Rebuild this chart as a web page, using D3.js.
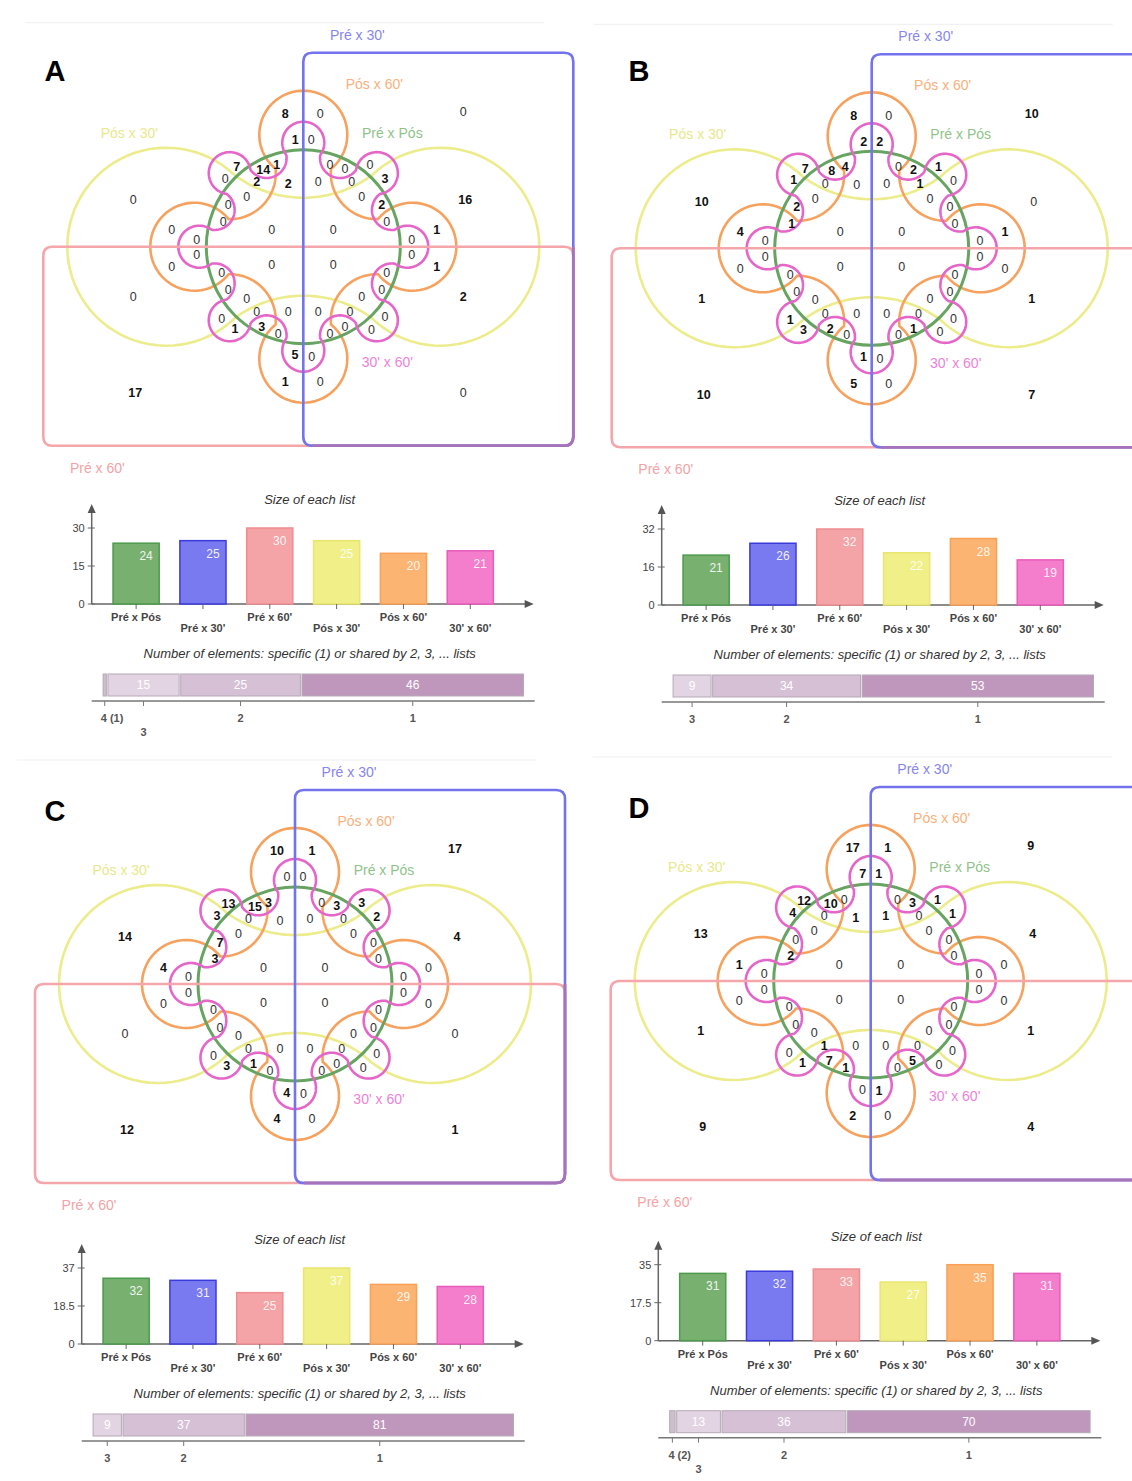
<!DOCTYPE html>
<html><head><meta charset="utf-8">
<script src="https://cdn.jsdelivr.net/npm/d3@7"></script>
<style>body{margin:0;background:#fff} svg{display:block} text{font-family:"Liberation Sans",Arial,sans-serif}</style>
</head><body><svg id="c" width="1132" height="1481"></svg>
<script>
// ---------------- DATA ----------------
const categories = ["Pré x Pós","Pré x 30'","Pré x 60'","Pós x 30'","Pós x 60'","30' x 60'"];

const sizesA = [24,25,30,25,20,21];
const sizesB = [21,26,32,22,28,19];
const sizesC = [32,31,25,37,29,28];
const sizesD = [31,32,33,27,35,31];

const ticksA = [0,15,30];
const ticksB = [0,16,32];
const ticksC = [0,18.5,37];
const ticksD = [0,17.5,35];

const levelsA = ["4","3","2","1"], sharedA = [1,15,25,46];
const levelsB = ["3","2","1"],     sharedB = [9,34,53];
const levelsC = ["3","2","1"],     sharedC = [9,37,81];
const levelsD = ["4","3","2","1"], sharedD = [2,13,36,70];

// region counts (63 regions, same order as regionPos layout table)
const regionsA = [0,0,16,0,2,17,0, 8,0, 1,0, 7,14,1,0,2,2,0,0,0, 0,0,0,0, 0,0,0,3,0,0,0,2,0, 1,0, 0,0,0,0,0,1, 0,0,0,0,0,0,1,3,0, 5,0,1,0, 0,0,0,0,0,0,0,0,0];
const regionsB = [10,10,0,1,1,10,7, 8,0, 2,2, 7,8,4,1,0,0,0,2,1, 4,0,0,0, 0,2,1,0,0,1,0,0,0, 1,0, 0,0,0,0,0,0, 0,0,0,1,0,0,3,2,0, 1,0,5,0, 0,0,0,0,0,0,0,1,0];
const regionsC = [17,14,4,0,0,12,1, 10,1, 0,0, 13,15,3,3,0,0,0,7,3, 4,0,0,0, 0,3,3,2,0,0,0,0,0, 0,0, 0,0,0,0,0,0, 0,0,0,0,0,0,3,1,0, 4,0,4,0, 0,0,0,0,0,0,0,0,0];
const regionsD = [9,13,4,1,1,9,4, 17,1, 7,1, 12,10,0,4,0,1,0,0,2, 1,0,0,0, 0,3,1,1,1,0,0,0,0, 0,0, 0,0,0,0,0,0, 0,0,0,0,1,0,1,7,1, 0,1,2,0, 0,0,0,0,0,0,0,5,0];

// ---------------- LAYOUT / STYLE ----------------
const regionPos = [
[160,-135],[-170,-47],[162,-47],[-170,50],[160,50],[-168,146],[160,146],
[-18,-133],[17,-133],
[-8,-107],[8,-107],
[-66.6,-80],[-40,-77.4],[-26.6,-81.7],[-78,-68.4],[-46.6,-65],[-15,-63.4],[-56.6,-50],[-75,-41.7],[-80,-25],
[-131.6,-16.7],[-106.6,-7.4],[-31.6,-16.7],[30,-16.7],
[26.7,-81.7],[41.7,-78.4],[66.7,-81.7],[81.7,-67.7],[15,-65],[48.4,-65],[58.4,-50],[78.4,-41.7],[83.4,-25],
[133.4,-16.7],[108.4,-7.4],
[-131.6,20],[-106.6,8.3],[-31.6,18.3],[30,18.3],[108.4,8.3],[133.4,20],
[-81.6,26],[-75,43.3],[-56.6,51.6],[-81.6,71.6],[-46.6,65],[-15,65],[-68.3,81.6],[-41.6,80],[-25,86.6],
[-8.3,108.3],[8.4,110],[-18,135],[17,135],
[15,65],[46.7,65],[58.4,50],[83.4,26],[78.4,43.3],[81.7,70],[26.7,86.6],[41.7,80],[68.3,83.3]
];
const setLabels = [
 {name:"Pré x 30'", x:54, y:-212, color:"#8686ee"},
 {name:"Pós x 60'", x:71, y:-163, color:"#f9b07c"},
 {name:"Pós x 30'", x:-174, y:-114, color:"#e8e88a"},
 {name:"Pré x Pós", x:89, y:-114, color:"#8fc38a"},
 {name:"30' x 60'", x:84, y:115, color:"#ee82d8"},
 {name:"Pré x 60'", x:-206, y:221, color:"#f3a3a6"}
];
const barFill   = ["#78b070","#7a7af0","#f4a4a6","#f0ef88","#fcb473","#f47dcc"];
const barStroke = ["#4c9a4c","#3b3bdc","#f08c90","#e8e570","#f8a055","#e85cbc"];
const levelFill = {"4":"#cbc1cb","3":"#e3d4e3","2":"#d6c0d6","1":"#bf97bd"};

const panels = [
 {letter:"A", sizes:sizesA, ticks:ticksA, levels:levelsA, shared:sharedA, regions:regionsA, vc:[303.3,246.7], bx:91.7, by:604, lx:55, ly:81},
 {letter:"B", sizes:sizesB, ticks:ticksB, levels:levelsB, shared:sharedB, regions:regionsB, vc:[871.7,248.3], bx:661.7, by:605, lx:639, ly:81},
 {letter:"C", sizes:sizesC, ticks:ticksC, levels:levelsC, shared:sharedC, regions:regionsC, vc:[295,984], bx:81.7, by:1344, lx:55, ly:821},
 {letter:"D", sizes:sizesD, ticks:ticksD, levels:levelsD, shared:sharedD, regions:regionsD, vc:[870.7,981], bx:658.3, by:1340.7, lx:639, ly:818}
];

// ---------------- GEOMETRY HELPERS ----------------
function meet(a,b){
  const dx=b.x-a.x, dy=b.y-a.y, d=Math.hypot(dx,dy);
  if (d >= a.r+b.r || d <= Math.abs(a.r-b.r)) { const k=a.r/(a.r+b.r); return [a.x+dx*k, a.y+dy*k]; }
  const A=(a.r*a.r-b.r*b.r+d*d)/(2*d), h=Math.sqrt(Math.max(0,a.r*a.r-A*A));
  const mx=a.x+dx*A/d, my=a.y+dy*A/d;
  const q1=[mx-dy*h/d, my+dx*h/d], q2=[mx+dy*h/d, my-dx*h/d];
  return Math.hypot(q1[0],q1[1])<Math.hypot(q2[0],q2[1])?q1:q2;
}
function arcPts(c,p1,p2,t){
  const TAU=2*Math.PI, norm=a=>((a%TAU)+TAU)%TAU;
  const a1=Math.atan2(p1[1]-c.y,p1[0]-c.x), a2=Math.atan2(p2[1]-c.y,p2[0]-c.x), at=Math.atan2(t[1]-c.y,t[0]-c.x);
  const s=norm(a2-a1); const sweep = norm(at-a1)<s ? s : s-TAU;
  const N=60, out=[];
  for(let k=0;k<=N;k++){const a=a1+sweep*k/N; out.push([c.x+c.r*Math.cos(a), c.y+c.r*Math.sin(a)]);}
  return out;
}
function cogPath(circles){
  const n=circles.length, P=[];
  for(let i=0;i<n;i++) P.push(meet(circles[i],circles[(i+1)%n]));
  let pts=[];
  for(let i=0;i<n;i++){
    const c=circles[i], p1=P[(i-1+n)%n], p2=P[i];
    const dist=Math.hypot(c.x,c.y), ux=c.x/dist, uy=c.y/dist;
    const t = c.outer ? [c.x+ux*c.r, c.y+uy*c.r] : [c.x-ux*c.r, c.y-uy*c.r];
    pts = pts.concat(arcPts(c,p1,p2,t));
  }
  return d3.line()(pts)+"Z";
}
function ring(count, dOut, rOut, dIn, rIn, phase){
  const arr=[];
  for(let k=0;k<count;k++){
    const outer = k%2===0, ang = phase + k*2*Math.PI/count;
    const d = outer?dOut:dIn, r = outer?rOut:rIn;
    arr.push({x:d*Math.cos(ang), y:d*Math.sin(ang), r:r, outer:outer});
  }
  return arr;
}
const yellowCircles = [
  {x:137,y:0,r:99,outer:true},{x:0,y:165,r:116,outer:false},
  {x:-137,y:0,r:99,outer:true},{x:0,y:-165,r:116,outer:false}];
const orangeCircles = (function(){
  const a=[]; for(let k=0;k<8;k++){const ang=k*Math.PI/4; const o=k%2===0;
    const d = o ? (k%4===0?109:112) : 104; a.push({x:d*Math.cos(ang), y:d*Math.sin(ang), r:o?44:46, outer:o});} return a; })();
const pinkCircles = ring(16, 104, 21, 96, 20, 0);

function roundRect(x0,y0,x1,y1,r){
  return `M${x0+r},${y0}H${x1-r}Q${x1},${y0} ${x1},${y0+r}V${y1-r}Q${x1},${y1} ${x1-r},${y1}H${x0+r}Q${x0},${y1} ${x0},${y1-r}V${y0+r}Q${x0},${y0} ${x0+r},${y0}Z`;
}

// ---------------- DRAW ----------------
const svg = d3.select("#c");
svg.append("rect").attr("width",1132).attr("height",1481).attr("fill","#fff");

function drawVenn(g, p){
  g.append("line").attr("x1",-278).attr("x2",241).attr("y1",-224).attr("y2",-224).attr("stroke","#efefef").attr("stroke-width",1);
  g.append("path").attr("d",cogPath(yellowCircles)).attr("fill","none").attr("stroke","#ecec8c").attr("stroke-width",2.6);
  g.append("path").attr("d",cogPath(orangeCircles)).attr("fill","none").attr("stroke","#f6a25e").attr("stroke-width",2.6);
  g.append("circle").attr("r",97).attr("fill","none").attr("stroke","#67a461").attr("stroke-width",3);
  g.append("path").attr("d",cogPath(pinkCircles)).attr("fill","none").attr("stroke","#e665c8").attr("stroke-width",2.6);
  g.append("path").attr("d",roundRect(-260,0,270,199,9)).attr("fill","none").attr("stroke","#f4a6ab").attr("stroke-width",2.6);
  g.append("path").attr("d",roundRect(0,-194,270,199,9)).attr("fill","none").attr("stroke","#7373ee").attr("stroke-width",2.6);
  g.append("path").attr("d",`M270,0V190Q270,199 261,199H9`).attr("fill","none").attr("stroke","#a673bb").attr("stroke-width",2.8);
  setLabels.forEach(s=>{
    g.append("text").attr("x",s.x).attr("y",s.y).attr("dy","0.35em").attr("text-anchor","middle")
     .attr("font-size",14).attr("fill",s.color).text(s.name);
  });
  p.regions.forEach((v,i)=>{
    const pos=regionPos[i];
    g.append("text").attr("x",pos[0]).attr("y",pos[1]).attr("dy","0.35em").attr("text-anchor","middle")
     .attr("font-size",12.5).attr("font-weight",v>0?"bold":"normal").attr("fill",v>0?"#111":"#333").text(v);
  });
}

function drawBars(g, p){
  const max = p.ticks[p.ticks.length-1];
  const x = d3.scaleBand().domain(categories).range([11, 412]).paddingInner(0.31).paddingOuter(0.155);
  const y = d3.scaleLinear().domain([0,max]).range([0,-76]);
  g.append("text").attr("x",218).attr("y",-100).attr("text-anchor","middle").attr("font-size",13)
    .attr("font-style","italic").attr("fill","#333").text("Size of each list");
  g.append("line").attr("x1",0).attr("y1",0).attr("x2",0).attr("y2",-92).attr("stroke","#666").attr("stroke-width",1.5);
  g.append("path").attr("d","M-4,-91L0,-100L4,-91Z").attr("fill","#555");
  g.append("line").attr("x1",0).attr("y1",0).attr("x2",434).attr("y2",0).attr("stroke","#666").attr("stroke-width",1.5);
  g.append("path").attr("d","M433,-4L442,0L433,4Z").attr("fill","#555");
  p.ticks.forEach(t=>{
    g.append("line").attr("x1",-4).attr("x2",3).attr("y1",y(t)).attr("y2",y(t)).attr("stroke","#666");
    g.append("text").attr("x",-7).attr("y",y(t)).attr("dy","0.35em").attr("text-anchor","end").attr("font-size",11).attr("fill","#444").text(t);
  });
  categories.forEach((c,i)=>{
    const v=p.sizes[i], bx=x(c), bw=x.bandwidth();
    g.append("rect").attr("x",bx).attr("y",y(v)).attr("width",bw).attr("height",-y(v))
      .attr("fill",barFill[i]).attr("stroke",barStroke[i]).attr("stroke-width",1.5);
    g.append("text").attr("x",bx+bw/2+10).attr("y",y(v)+17).attr("text-anchor","middle").attr("font-size",12)
      .attr("fill","#fff").attr("fill-opacity",0.9).text(v);
    const cx=bx+bw/2;
    g.append("line").attr("x1",cx).attr("x2",cx).attr("y1",0).attr("y2",5).attr("stroke","#666");
    g.append("text").attr("x",cx).attr("y",i%2===0?17:28).attr("text-anchor","middle").attr("font-size",11)
      .attr("font-weight",600).attr("fill","#444").text(c);
  });
  g.append("text").attr("x",218).attr("y",54).attr("text-anchor","middle").attr("font-size",13)
    .attr("font-style","italic").attr("fill","#333").text("Number of elements: specific (1) or shared by 2, 3, ... lists");
  const total=d3.sum(p.shared);
  const xs=d3.scaleLinear().domain([0,total]).range([10.6,432.6]);
  g.append("line").attr("x1",0).attr("x2",443).attr("y1",97).attr("y2",97).attr("stroke","#777").attr("stroke-width",1.5);
  let cum=0, prevTiny=false;
  p.levels.forEach((lv,i)=>{
    const v=p.shared[i], x0=xs(cum)+0.8, x1=xs(cum+v)-0.8; cum+=v;
    g.append("rect").attr("x",x0).attr("y",70).attr("width",Math.max(1,x1-x0)).attr("height",22)
      .attr("fill",levelFill[lv]).attr("stroke","#b5a9b5").attr("stroke-width",1);
    if (x1-x0>18) g.append("text").attr("x",(x0+x1)/2).attr("y",81).attr("dy","0.35em").attr("text-anchor","middle")
      .attr("font-size",12).attr("fill","#fff").text(v);
    const cx=(x0+x1)/2;
    g.append("line").attr("x1",cx).attr("x2",cx).attr("y1",97).attr("y2",102).attr("stroke","#777");
    const tiny = x1-x0 < 12;
    const label = tiny ? `${lv} (${v})` : lv;
    const row = prevTiny ? 1 : 0;
    g.append("text").attr("x",tiny?cx-4:cx).attr("y",118+row*14).attr("text-anchor",tiny?"start":"middle")
      .attr("font-size",11).attr("font-weight",600).attr("fill","#555").text(label);
    prevTiny = tiny;
  });
}

panels.forEach(p=>{
  const gv = svg.append("g").attr("transform",`translate(${p.vc[0]},${p.vc[1]})`);
  drawVenn(gv,p);
  const gb = svg.append("g").attr("transform",`translate(${p.bx},${p.by})`);
  drawBars(gb,p);
  svg.append("text").attr("x",p.lx).attr("y",p.ly).attr("text-anchor","middle").attr("font-size",29)
    .attr("font-weight","bold").attr("fill","#000").text(p.letter);
});
</script></body></html>
